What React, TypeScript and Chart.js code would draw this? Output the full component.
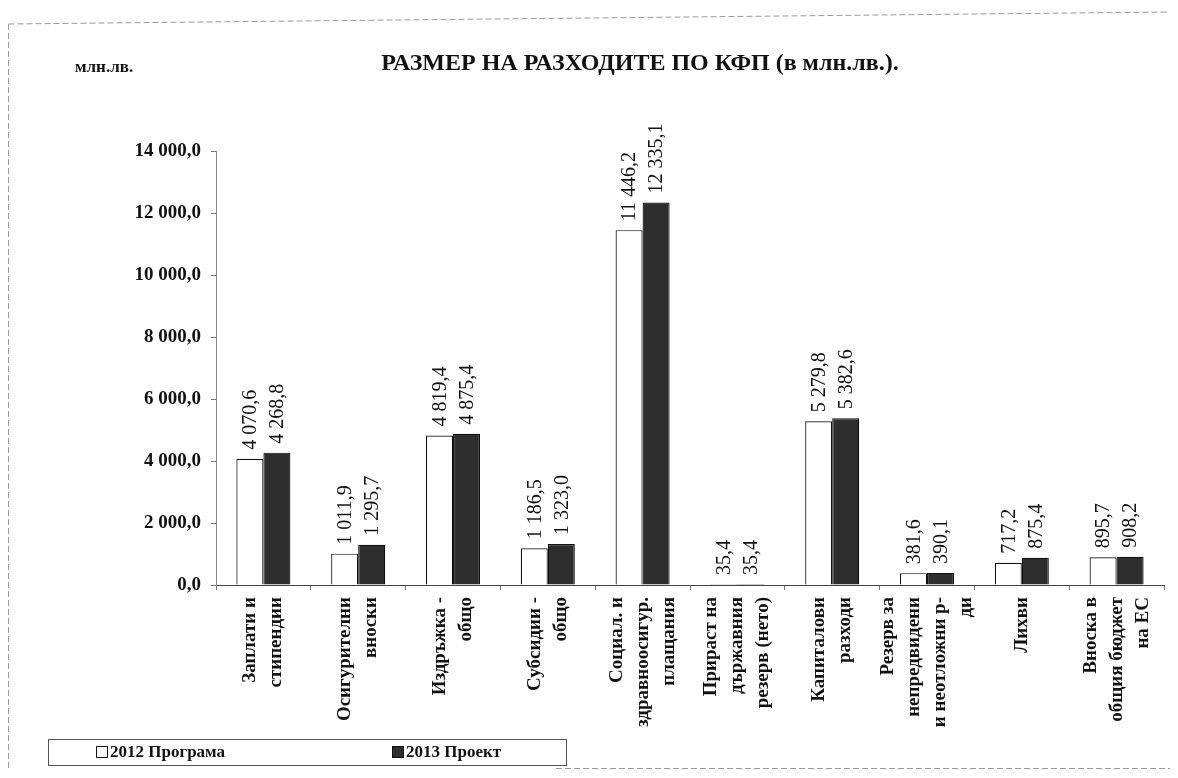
import React, { useEffect, useRef } from "react";
import { Chart, registerables } from "chart.js";

Chart.register(...registerables);

const categories: string[][] = [
  ["Заплати и", "стипендии"],
  ["Осигурителни", "вноски"],
  ["Издръжка -", "общо"],
  ["Субсидии -", "общо"],
  ["Социал. и", "здравноосигур.", "плащания"],
  ["Прираст на", "държавния", "резерв (нето)"],
  ["Капиталови", "разходи"],
  ["Резерв за", "непредвидени", "и неотложни р-", "ди"],
  ["Лихви"],
  ["Вноска в", "общия бюджет", "на ЕС"],
];

const values2012: number[] = [4070.6, 1011.9, 4819.4, 1186.5, 11446.2, 35.4, 5279.8, 381.6, 717.2, 895.7];
const values2013: number[] = [4268.8, 1295.7, 4875.4, 1323.0, 12335.1, 35.4, 5382.6, 390.1, 875.4, 908.2];

const seriesNames: string[] = ["2012 Програма", "2013 Проект"];
const yTicks: number[] = [0, 2000, 4000, 6000, 8000, 10000, 12000, 14000];

const titleText = "РАЗМЕР НА РАЗХОДИТЕ ПО КФП (в млн.лв.).";
const unitText = "млн.лв.";

const SERIF = "'Liberation Serif', 'DejaVu Serif', serif";

function fmt(v: number): string {
  const [i, d] = v.toFixed(1).split(".");
  const withSpaces = i.replace(/\B(?=(\d{3})+(?!\d))/g, " ");
  return withSpaces + "," + d;
}

const decorPlugin = {
  id: "decor",
  afterDraw(chart: any) {
    const ctx = chart.ctx as CanvasRenderingContext2D;
    const W = chart.width;
    const H = chart.height;
    const xs = chart.scales.x;
    const area = chart.chartArea;
    ctx.save();
    // scanned frame
    ctx.strokeStyle = "#9a9a9a";
    ctx.lineWidth = 1;
    ctx.setLineDash([6, 3]);
    ctx.beginPath();
    ctx.moveTo(0.5, 16);
    ctx.lineTo(W - 0.5, 4);
    ctx.moveTo(0.5, 16);
    ctx.lineTo(0.5, H - 0.5);
    ctx.moveTo(548, H - 1.5);
    ctx.lineTo(W, H - 1.5);
    ctx.stroke();
    ctx.setLineDash([]);

    // title
    ctx.fillStyle = "#111";
    ctx.font = `bold 24px ${SERIF}`;
    ctx.textAlign = "center";
    ctx.textBaseline = "middle";
    ctx.fillText(titleText, 632, 56);

    ctx.font = `bold 17px ${SERIF}`;
    ctx.textAlign = "left";
    ctx.fillText(unitText, 67, 60);

    // category labels (rotated, lines centred on the category)
    ctx.font = `bold 19px ${SERIF}`;
    ctx.fillStyle = "#111";
    const lineGap = 26;
    categories.forEach((lines, i) => {
      const cx = xs.getPixelForValue(i);
      const n = lines.length;
      lines.forEach((ln, j) => {
        const x = cx + (j - (n - 1) / 2) * lineGap;
        ctx.save();
        ctx.translate(x, area.bottom + 12);
        ctx.rotate(-Math.PI / 2);
        ctx.textAlign = "right";
        ctx.textBaseline = "middle";
        ctx.fillText(ln, 0, 0);
        ctx.restore();
      });
    });

    // data labels
    ctx.font = `20px ${SERIF}`;
    ctx.fillStyle = "#111";
    chart.data.datasets.forEach((ds: any, di: number) => {
      const meta = chart.getDatasetMeta(di);
      meta.data.forEach((el: any, i: number) => {
        const v = ds.data[i];
        ctx.save();
        ctx.translate(el.x, el.y - 9);
        ctx.rotate(-Math.PI / 2);
        ctx.textAlign = "left";
        ctx.textBaseline = "middle";
        ctx.fillText(fmt(v), 0, 1);
        ctx.restore();
      });
    });

    // legend
    const lx = 40, ly = 731, lw = 518, lh = 26;
    ctx.strokeStyle = "#555";
    ctx.lineWidth = 1;
    ctx.strokeRect(lx + 0.5, ly + 0.5, lw, lh);
    const items = [
      { x: 88, fill: "#ffffff" },
      { x: 384, fill: "#2e2e2e" },
    ];
    ctx.font = `bold 17px ${SERIF}`;
    ctx.textBaseline = "middle";
    ctx.textAlign = "left";
    items.forEach((it, k) => {
      const cy = ly + lh / 2 + 1;
      ctx.fillStyle = it.fill;
      ctx.fillRect(it.x + 0.5, cy - 6.5, 11, 11);
      ctx.strokeStyle = "#111";
      ctx.strokeRect(it.x + 0.5, cy - 6.5, 11, 11);
      ctx.fillStyle = "#111";
      ctx.fillText(seriesNames[k], it.x + 14, cy);
    });
    ctx.restore();
  },
};

export default function App() {
  const ref = useRef<HTMLCanvasElement | null>(null);
  useEffect(() => {
    if (!ref.current) return;
    const chart = new Chart(ref.current, {
      type: "bar",
      data: {
        labels: categories.map((c) => c.join(" ")),
        datasets: [
          {
            label: seriesNames[0],
            data: values2012,
            backgroundColor: "#ffffff",
            borderColor: "#111",
            borderWidth: 1.2,
            categoryPercentage: 0.57,
            barPercentage: 1.0,
          },
          {
            label: seriesNames[1],
            data: values2013,
            backgroundColor: "#2e2e2e",
            borderColor: "#111",
            borderWidth: 1.2,
            categoryPercentage: 0.57,
            barPercentage: 1.0,
          },
        ],
      },
      options: {
        responsive: false,
        animation: false,
        layout: { padding: { top: 143, right: 6, bottom: 0, left: 0 } },
        plugins: {
          legend: { display: false },
          title: { display: false },
          tooltip: { enabled: false },
        },
        scales: {
          x: {
            afterFit: (s: any) => {
              s.height = 185;
              s.paddingLeft = 0;
              s.paddingRight = 0;
            },
            grid: {
              display: true,
              drawOnChartArea: false,
              offset: true,
              tickLength: 5,
              color: "#777",
            },
            border: { display: true, color: "#444", width: 1 },
            ticks: { display: false, autoSkip: false },
          },
          y: {
            min: 0,
            max: 14000,
            afterFit: (s: any) => {
              s.width = 208;
              s.paddingTop = 0;
              s.paddingBottom = 0;
            },
            afterBuildTicks: (s: any) => {
              s.ticks = yTicks.map((v) => ({ value: v }));
            },
            grid: {
              display: true,
              drawOnChartArea: false,
              tickLength: 5,
              color: "#777",
            },
            border: { display: true, color: "#888", width: 1, dash: [4, 3] },
            ticks: {
              padding: 10,
              color: "#111",
              font: { family: SERIF, size: 19, weight: "bold" },
              callback: (v: any) => fmt(Number(v)),
            },
          },
        },
      },
      plugins: [decorPlugin],
    });
    return () => chart.destroy();
  }, []);
  return (
    <div style={{ width: 1162, height: 762 }}>
      <canvas ref={ref} width={1162} height={762} style={{ display: "block" }} />
    </div>
  );
}
